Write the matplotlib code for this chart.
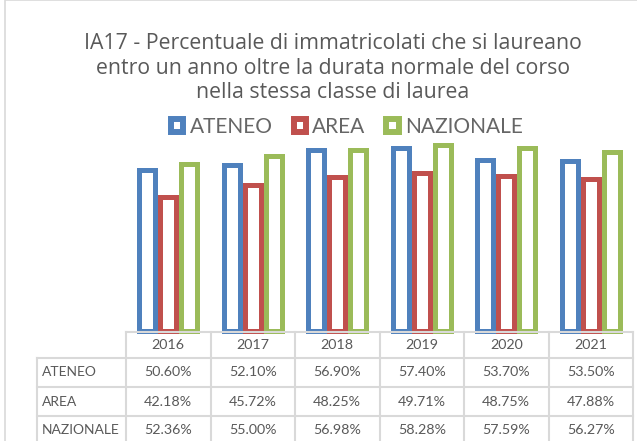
import matplotlib.pyplot as plt
from matplotlib.patches import Rectangle, Patch
from matplotlib.lines import Line2D

# dati
anni = ["2016", "2017", "2018", "2019", "2020", "2021"]
serie = ["ATENEO", "AREA", "NAZIONALE"]
ateneo = [50.60, 52.10, 56.90, 57.40, 53.70, 53.50]
area = [42.18, 45.72, 48.25, 49.71, 48.75, 47.88]
nazionale = [52.36, 55.00, 56.98, 58.28, 57.59, 56.27]
colori = ["#4F81BD", "#C0504D", "#9BBB59"]

titolo = ("IA17 - Percentuale di immatricolati che si laureano\n"
          "entro un anno oltre la durata normale del corso\n"
          "nella stessa classe di laurea")

plt.rcParams['font.family'] = ['Lato', 'DejaVu Sans']
grigio = "#595959"
linea = "#D9D9D9"

W, H = 637, 441
fig = plt.figure(figsize=(W / 100, H / 100), dpi=100)

def fx(px):
    return px / W

def fy(py):
    return 1 - py / H

# cornice del grafico
fig.add_artist(Rectangle((fx(5), fy(460)), fx(700), 460 / H, transform=fig.transFigure,
                         facecolor="none", edgecolor=linea, lw=1.2))

# area del grafico
left, right, bottom, top = 126, 633, 331, 140
ax = fig.add_axes([fx(left), fy(bottom), fx(right - left), (bottom - top) / H])
ax.set_xlim(-0.5, len(anni) - 0.5)
ax.set_ylim(0, 60)
ax.axis('off')

valori = [ateneo, area, nazionale]
for j, (nome, vals) in enumerate(zip(serie, valori)):
    xs = [i + (j - 1) * 0.25 for i in range(len(anni))]
    ax.bar(xs, vals, width=0.19, facecolor="white", edgecolor=colori[j],
           linewidth=3.6, label=nome, clip_on=False)

# titolo e legenda
fig.text(fx(333), fy(68), titolo, ha='center', va='center', fontsize=15.3,
         color=grigio, linespacing=1.22, family=['Open Sans', 'DejaVu Sans'])
maniglie = [Patch(facecolor="white", edgecolor=c, linewidth=4.3) for c in colori]
fig.legend(handles=maniglie, labels=serie, loc='center', bbox_to_anchor=(fx(347), fy(127)),
           ncol=3, frameon=False, fontsize=15, handlelength=0.6, handleheight=0.6,
           handletextpad=0.3, columnspacing=1.0, labelcolor="#666666")

# tabella dati
colw = (right - left) / len(anni)
righe_y = [332, 358, 387, 416, 445]
tab_left = 37

def hline(x0, x1, y):
    fig.add_artist(Line2D([fx(x0), fx(x1)], [fy(y), fy(y)], transform=fig.transFigure,
                          color=linea, lw=1.5))

def vline(x, y0, y1):
    fig.add_artist(Line2D([fx(x), fx(x)], [fy(y0), fy(y1)], transform=fig.transFigure,
                          color=linea, lw=1.5))

hline(left, right, righe_y[0])
for y in righe_y[1:]:
    hline(tab_left, right, y)
vline(tab_left, righe_y[1], righe_y[-1])
for i in range(len(anni) + 1):
    vline(left + i * colw, righe_y[0], righe_y[-1])

for i, anno in enumerate(anni):
    cx = left + (i + 0.5) * colw
    fig.text(fx(cx), fy((righe_y[0] + righe_y[1]) / 2), anno, ha='center', va='center',
             fontsize=10.3, color=grigio)
    for r, vals in enumerate(valori):
        cy = (righe_y[r + 1] + righe_y[r + 2]) / 2
        fig.text(fx(cx), fy(cy), f"{vals[i]:.2f}%", ha='center', va='center',
                 fontsize=10.3, color=grigio)

for r, nome in enumerate(serie):
    cy = (righe_y[r + 1] + righe_y[r + 2]) / 2
    fig.text(fx(tab_left + 5), fy(cy), nome, ha='left', va='center', fontsize=10,
             color=grigio)

fig.savefig("out.png", dpi=100)
